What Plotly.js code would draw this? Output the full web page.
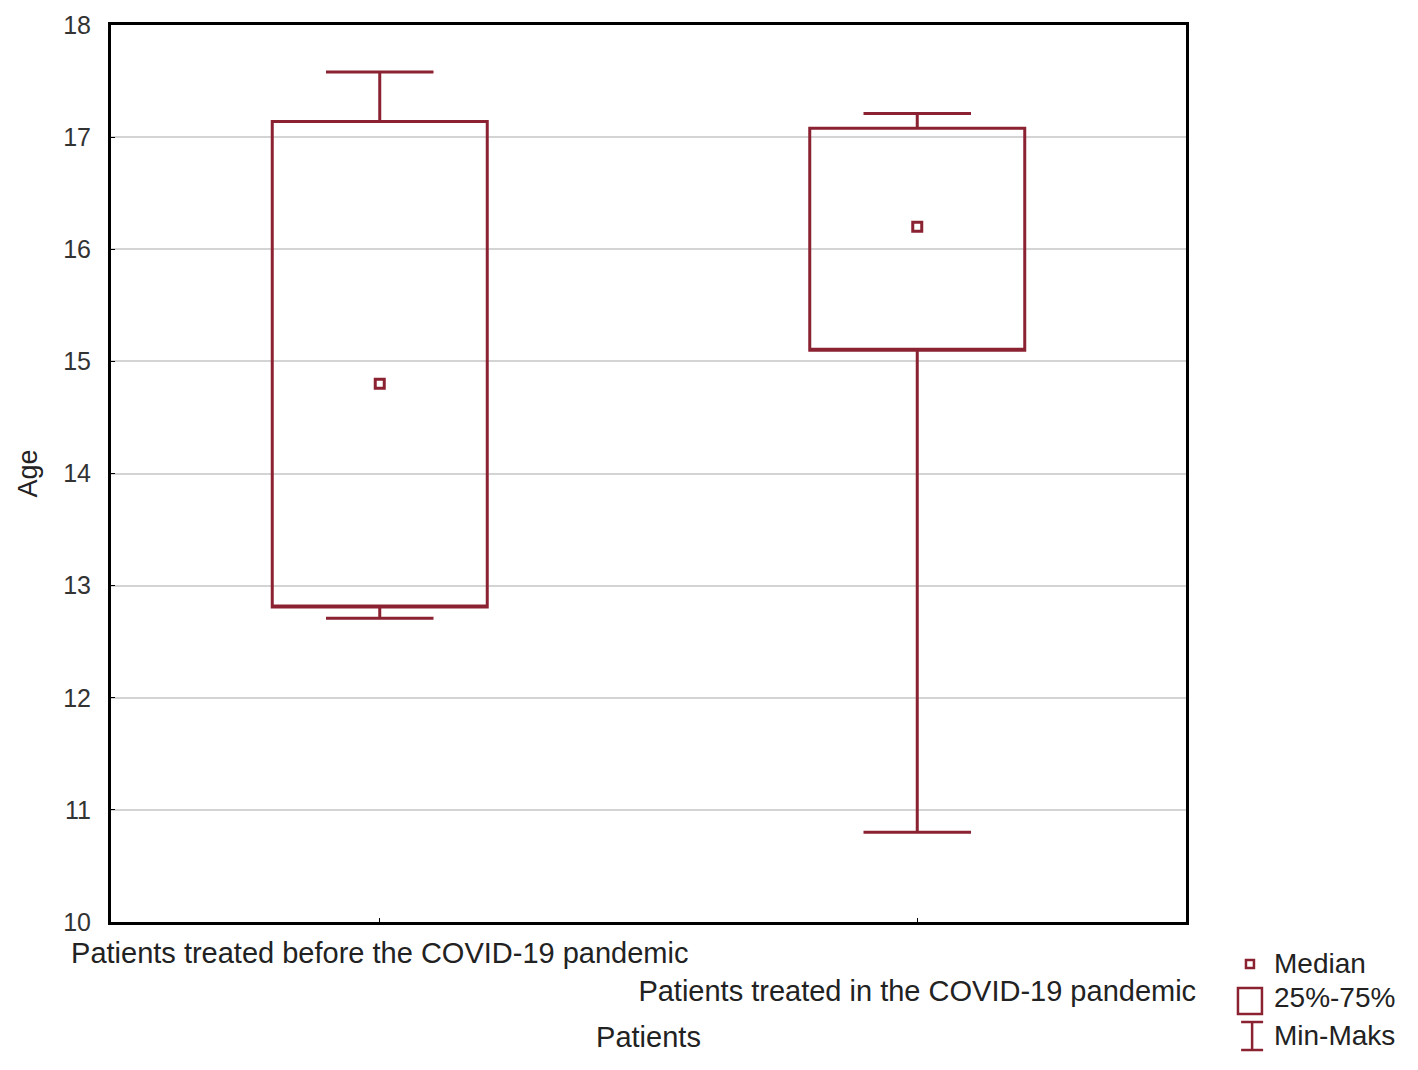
<!DOCTYPE html>
<html>
<head>
<meta charset="utf-8">
<script src="https://cdn.plot.ly/plotly-3.0.1.min.js"></script>
<style>
  html, body { margin: 0; padding: 0; background: #fff; }
  #chart { width: 1418px; height: 1070px; }
</style>
</head>
<body>
<div id="chart"></div>
<script>
const groups = [0, 1];
const groupLabels = [
    'Patients treated before the COVID-19 pandemic',
    '<br>Patients treated in the COVID-19 pandemic'
];
const minAge = [12.71, 10.80];
const q1Age = [12.81, 15.10];
const medianAge = [14.80, 16.20];
const q3Age = [17.14, 17.08];
const maxAge = [17.58, 17.21];
const yTicks = [10, 11, 12, 13, 14, 15, 16, 17, 18];

const RED = '#8b2232';
const FONT = 'Liberation Sans, Arial, sans-serif';

const boxes = {
    type: 'box',
    x: groups,
    q1: q1Age,
    median: q1Age, // median is drawn as a marker, keep the line on the box edge
    q3: q3Age,
    lowerfence: minAge,
    upperfence: maxAge,
    width: 0.4,
    whiskerwidth: 0.5,
    fillcolor: 'rgba(255,255,255,0)',
    line: {color: RED, width: 3},
    boxpoints: false,
    hoverinfo: 'skip',
    showlegend: false
};

const medians = {
    type: 'scatter',
    mode: 'markers',
    x: groups,
    y: medianAge,
    marker: {
        symbol: 'square-open',
        size: 9,
        color: RED,
        line: {color: RED, width: 3}
    },
    hoverinfo: 'skip',
    showlegend: false
};

// legend drawn by hand, paper coordinates
const legX = 1.0595;
const legend = [
    {label: 'Median', y: -0.0468},
    {label: '25%-75%', y: -0.0847},
    {label: 'Min-Maks', y: -0.126}
];

const shapes = [
    {type: 'rect', xref: 'paper', yref: 'paper', xsizemode: 'pixel', ysizemode: 'pixel',
        xanchor: legX, yanchor: -0.0468, x0: -4, x1: 4, y0: -4, y1: 4,
        line: {color: RED, width: 2.5}},
    {type: 'rect', xref: 'paper', yref: 'paper', xsizemode: 'pixel', ysizemode: 'pixel',
        xanchor: legX, yanchor: -0.0881, x0: -12, x1: 12, y0: -13, y1: 13,
        line: {color: RED, width: 2.5}},
    {type: 'line', xref: 'paper', yref: 'paper', xsizemode: 'pixel', ysizemode: 'pixel',
        xanchor: legX + 0.002, yanchor: -0.1271, x0: 0, x1: 0, y0: -14, y1: 14,
        line: {color: RED, width: 2.5}},
    {type: 'line', xref: 'paper', yref: 'paper', xsizemode: 'pixel', ysizemode: 'pixel',
        xanchor: legX + 0.002, yanchor: -0.1271, x0: -11, x1: 11, y0: 14, y1: 14,
        line: {color: RED, width: 2.5}},
    {type: 'line', xref: 'paper', yref: 'paper', xsizemode: 'pixel', ysizemode: 'pixel',
        xanchor: legX + 0.002, yanchor: -0.1271, x0: -11, x1: 11, y0: -14, y1: -14,
        line: {color: RED, width: 2.5}}
];

const annotations = legend.map((item) => ({
    xref: 'paper', yref: 'paper',
    x: 1.080, y: item.y,
    xanchor: 'left', yanchor: 'middle',
    text: item.label,
    showarrow: false,
    font: {family: FONT, size: 28, color: '#222'}
}));

const layout = {
    width: 1418,
    height: 1070,
    paper_bgcolor: '#fff',
    plot_bgcolor: '#fff',
    margin: {l: 111, r: 232, t: 25, b: 148},
    font: {family: FONT, color: '#222'},
    showlegend: false,
    xaxis: {
        range: [-0.5, 1.5],
        tickvals: groups,
        ticktext: groupLabels,
        tickangle: 0,
        tickfont: {family: FONT, size: 29, color: '#222'},
        ticks: 'inside',
        ticklen: 4,
        tickcolor: '#000',
        ticklabelstandoff: 3,
        showgrid: false,
        zeroline: false,
        showline: true,
        mirror: true,
        linecolor: '#000',
        linewidth: 3,
        title: {text: 'Patients', font: {family: FONT, size: 29, color: '#222'}, standoff: 22}
    },
    yaxis: {
        range: [10, 18],
        tickvals: yTicks,
        tickfont: {family: FONT, size: 25, color: '#333'},
        ticks: 'inside',
        ticklen: 4,
        tickcolor: '#000',
        ticklabelstandoff: 12,
        showgrid: true,
        gridcolor: '#d4d4d4',
        gridwidth: 2,
        zeroline: false,
        showline: true,
        mirror: true,
        linecolor: '#000',
        linewidth: 3,
        title: {text: 'Age', font: {family: FONT, size: 27, color: '#222'}, standoff: 18}
    },
    shapes: shapes,
    annotations: annotations
};

Plotly.newPlot('chart', [boxes, medians], layout, {displayModeBar: false, staticPlot: true});
</script>
</body>
</html>
